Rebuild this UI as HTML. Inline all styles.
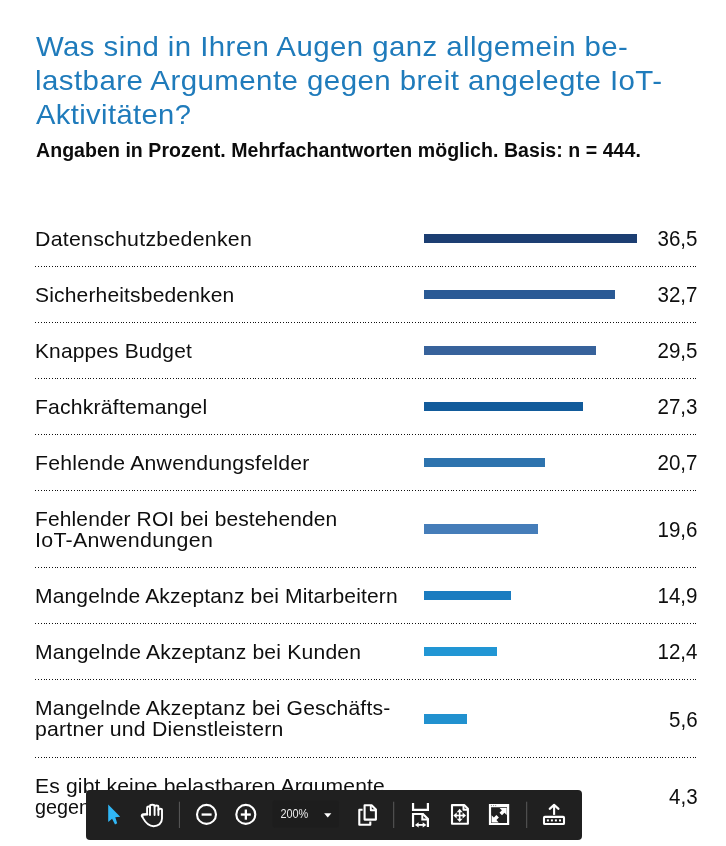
<!DOCTYPE html>
<html lang="de"><head><meta charset="utf-8"><title>IoT-Aktivitäten</title>
<style>
html,body{margin:0;padding:0;background:#fff;}
body{width:726px;height:846px;position:relative;overflow:hidden;font-family:"Liberation Sans", sans-serif;}
.t{position:absolute;white-space:nowrap;line-height:1;margin:0;transform-origin:0 0;}
.v{position:absolute;white-space:nowrap;line-height:1;text-align:right;font-size:21.3px;color:#0e0e0e;letter-spacing:0;transform:scaleX(0.965);transform-origin:100% 0;}
.b{position:absolute;}
#pg{position:absolute;left:0;top:0;width:726px;height:846px;will-change:transform;}
.d{position:absolute;left:35px;width:663px;height:1px;background-image:linear-gradient(90deg,#111 0,#111 1px,transparent 1px,transparent 3px,#111 3px,#111 4px,transparent 4px,transparent 6px,#111 6px,#111 7px,transparent 7px,transparent 9px,#111 9px,#111 10px,transparent 10px,transparent 11px);background-size:11px 1px;background-repeat:repeat-x;}
</style></head>
<body>
<div id="pg">
<div class="t" style="left:36.3px;top:32.80px;font-size:28px;font-weight:400;color:#1f7bbb;letter-spacing:0.419px;transform:scaleX(1.0494)">Was sind in Ihren Augen ganz allgemein be-</div>
<div class="t" style="left:35.2px;top:66.80px;font-size:28px;font-weight:400;color:#1f7bbb;letter-spacing:0.428px;transform:scaleX(1.0514)">lastbare Argumente gegen breit angelegte IoT-</div>
<div class="t" style="left:36.3px;top:100.80px;font-size:28px;font-weight:400;color:#1f7bbb;letter-spacing:0.354px;transform:scaleX(1.0421)">Aktivitäten?</div>
<div class="t" style="left:36.3px;top:140.60px;font-size:19.4px;font-weight:700;color:#0c0c0c;letter-spacing:0.048px;transform:scaleX(1.0075)">Angaben in Prozent. Mehrfachantworten möglich. Basis: n = 444.</div>
<div class="t" style="left:35.4px;top:228.50px;font-size:20.6px;font-weight:400;color:#0e0e0e;letter-spacing:0.254px;transform:scaleX(1.0347)">Datenschutzbedenken</div>
<div class="t" style="left:35.4px;top:284.50px;font-size:20.6px;font-weight:400;color:#0e0e0e;letter-spacing:0.151px;transform:scaleX(1.0217)">Sicherheitsbedenken</div>
<div class="t" style="left:35.4px;top:340.50px;font-size:20.6px;font-weight:400;color:#0e0e0e;letter-spacing:0.136px;transform:scaleX(1.0177)">Knappes Budget</div>
<div class="t" style="left:35.4px;top:396.50px;font-size:20.6px;font-weight:400;color:#0e0e0e;letter-spacing:0.194px;transform:scaleX(1.0271)">Fachkräftemangel</div>
<div class="t" style="left:35.4px;top:452.50px;font-size:20.6px;font-weight:400;color:#0e0e0e;letter-spacing:0.214px;transform:scaleX(1.0304)">Fehlende Anwendungsfelder</div>
<div class="t" style="left:35.4px;top:508.50px;font-size:20.6px;font-weight:400;color:#0e0e0e;letter-spacing:0.129px;transform:scaleX(1.0188)">Fehlender ROI bei bestehenden</div>
<div class="t" style="left:35.4px;top:529.50px;font-size:20.6px;font-weight:400;color:#0e0e0e;letter-spacing:0.293px;transform:scaleX(1.0381)">IoT-Anwendungen</div>
<div class="t" style="left:35.4px;top:585.50px;font-size:20.6px;font-weight:400;color:#0e0e0e;letter-spacing:0.138px;transform:scaleX(1.0210)">Mangelnde Akzeptanz bei Mitarbeitern</div>
<div class="t" style="left:35.4px;top:641.50px;font-size:20.6px;font-weight:400;color:#0e0e0e;letter-spacing:0.180px;transform:scaleX(1.0258)">Mangelnde Akzeptanz bei Kunden</div>
<div class="t" style="left:35.4px;top:697.50px;font-size:20.6px;font-weight:400;color:#0e0e0e;letter-spacing:0.166px;transform:scaleX(1.0247)">Mangelnde Akzeptanz bei Geschäfts-</div>
<div class="t" style="left:35.4px;top:718.50px;font-size:20.6px;font-weight:400;color:#0e0e0e;letter-spacing:0.193px;transform:scaleX(1.0317)">partner und Dienstleistern</div>
<div class="t" style="left:35.4px;top:775.50px;font-size:20.6px;font-weight:400;color:#0e0e0e;letter-spacing:0.152px;transform:scaleX(1.0235)">Es gibt keine belastbaren Argumente</div>
<div class="t" style="left:35.4px;top:796.50px;font-size:20.6px;font-weight:400;color:#0e0e0e;letter-spacing:0.000px;transform:scaleX(0.9604)">gegen IoT-Aktivitäten</div>
<div class="b" style="left:424px;top:234.00px;width:213px;height:9.4px;background:#1c3e72"></div>
<div class="b" style="left:424px;top:290.00px;width:191px;height:9.4px;background:#2a5a95"></div>
<div class="b" style="left:424px;top:346.00px;width:172px;height:9.4px;background:#37629b"></div>
<div class="b" style="left:424px;top:402.00px;width:159px;height:9.4px;background:#125b9b"></div>
<div class="b" style="left:424px;top:458.00px;width:121px;height:9.4px;background:#2d73ae"></div>
<div class="b" style="left:424px;top:524.00px;width:114px;height:9.9px;background:#457db9"></div>
<div class="b" style="left:424px;top:591.00px;width:87px;height:9.4px;background:#1b7cc0"></div>
<div class="b" style="left:424px;top:647.00px;width:73px;height:9.4px;background:#2196d4"></div>
<div class="b" style="left:424px;top:714.00px;width:43px;height:9.9px;background:#2191cf"></div>
<div class="b" style="left:424px;top:792.00px;width:25px;height:9.9px;background:#2191cf"></div>
<div class="v" style="right:28.3px;top:228.65px">36,5</div>
<div class="v" style="right:28.3px;top:284.65px">32,7</div>
<div class="v" style="right:28.3px;top:340.65px">29,5</div>
<div class="v" style="right:28.3px;top:396.65px">27,3</div>
<div class="v" style="right:28.3px;top:452.65px">20,7</div>
<div class="v" style="right:28.3px;top:519.65px">19,6</div>
<div class="v" style="right:28.3px;top:585.65px">14,9</div>
<div class="v" style="right:28.3px;top:641.65px">12,4</div>
<div class="v" style="right:28.3px;top:709.65px">5,6</div>
<div class="v" style="right:28.3px;top:786.65px">4,3</div>
<div class="d" style="top:266px"></div>
<div class="d" style="top:322px"></div>
<div class="d" style="top:378px"></div>
<div class="d" style="top:434px"></div>
<div class="d" style="top:490px"></div>
<div class="d" style="top:567px"></div>
<div class="d" style="top:623px"></div>
<div class="d" style="top:679px"></div>
<div class="d" style="top:757px"></div>
<svg class="tb" style="position:absolute;left:86px;top:790px" width="496" height="50" viewBox="86 790 496 50">
<rect x="86" y="790" width="496" height="50" rx="4" ry="4" fill="#202020"/>
<!-- select cursor -->
<path d="M108.2 804.6 L108.2 821.9 L112.1 818.7 L115.0 824.4 L117.2 823.3 L115.3 817.3 L120.2 816.7 Z" fill="#30b6f5"/>
<!-- hand -->
<g fill="none" stroke="#fff" stroke-width="1.9" stroke-linecap="round" stroke-linejoin="round">
<path d="M147.1 814.2 V807.8 Q147.1 806.5 148.55 806.5 Q150.0 806.5 150.0 807.8 V815.0"/>
<path d="M150.0 807.8 V806.1 Q150.0 804.8 152.3 804.8 Q154.6 804.8 154.6 806.1 V815.0"/>
<path d="M154.6 806.7 Q154.6 805.5 156.5 805.5 Q158.4 805.5 158.4 806.7 V815.0"/>
<path d="M158.4 810.0 Q158.4 808.7 160.2 808.7 Q162.0 808.7 162.0 810.0 V818.6 C162.0 823.6 158.0 826.2 153.6 826.2 C148.4 826.2 145.6 822.8 143.2 818.4 L142.1 816.2"/>
<path d="M147.1 814.2 L143.6 814.4 Q141.6 814.7 142.1 816.2" stroke-width="2.5"/>
</g>
<!-- separators -->
<g fill="#5a5a5a">
<rect x="178.9" y="801.7" width="1" height="26.3"/>
<rect x="393.2" y="801.7" width="1" height="26.3"/>
<rect x="526.2" y="801.7" width="1" height="26.3"/>
</g>
<!-- zoom out / in -->
<g fill="none" stroke="#fff" stroke-width="2.1">
<circle cx="206.5" cy="814.4" r="9.5"/>
<circle cx="245.8" cy="814.4" r="9.5"/>
</g>
<g fill="#fff">
<rect x="201.6" y="813.4" width="10" height="2.3"/>
<rect x="240.8" y="813.4" width="10" height="2.3"/>
<rect x="244.7" y="809.5" width="2.3" height="10.2"/>
</g>
<!-- zoom value box -->
<rect x="272.6" y="800.6" width="66.4" height="27" rx="2" fill="#1d1d1d"/>
<text x="280.4" y="818.1" font-family="Liberation Sans, sans-serif" font-size="12.6" fill="#ececec" textLength="27.9" lengthAdjust="spacingAndGlyphs">200%</text>
<path d="M324.1 813.2 H331.4 L327.75 817.6 Z" fill="#fff"/>
<!-- page display (two pages) -->
<g fill="none" stroke="#fff" stroke-width="2.1" stroke-linejoin="round">
<path d="M362.6 809.8 H359.3 V824.7 H370.3 V821.6"/>
<path d="M364.6 805.2 H371.6 L375.9 809.5 V819.6 H364.6 Z"/>
<path d="M370.8 805.4 V810.3 H375.8" stroke-width="1.9"/>
</g>
<!-- fit width -->
<g fill="none" stroke="#fff" stroke-width="2.2" stroke-linejoin="miter">
<path d="M413.05 803 V809.9 H427.9 V803"/>
<path d="M413.05 827 V814.0 H423.0 L427.9 818.9 V827"/>
<path d="M422.3 814.2 V819.6 H427.8" stroke-width="2"/>
</g>
<g fill="#fff">
<rect x="417.4" y="824.0" width="6.6" height="1.8"/>
<path d="M414.9 824.9 L418.6 822.2 V827.6 Z"/>
<path d="M426.4 824.9 L422.7 822.2 V827.6 Z"/>
</g>
<!-- fit page -->
<g fill="none" stroke="#fff" stroke-width="2.1" stroke-linejoin="round">
<path d="M452.0 805.1 H464.2 L467.9 808.8 V823.7 H452.0 Z"/>
<path d="M463.5 805.4 V809.8 H467.8" stroke-width="2"/>
</g>
<g fill="#fff">
<rect x="455.4" y="814.7" width="8.6" height="1.6"/>
<rect x="458.85" y="811.2" width="1.6" height="8.6"/>
<path d="M459.65 808.8 L462.6 812.2 H456.7 Z"/>
<path d="M459.65 822.1 L462.6 818.7 H456.7 Z"/>
<path d="M453.3 815.5 L456.7 812.6 V818.4 Z"/>
<path d="M466.0 815.5 L462.6 812.6 V818.4 Z"/>
</g>
<!-- full screen -->
<path d="M488.9 803.9 H509.2 V825 H488.9 Z M491.1 807.3 V822.9 H507.0 V807.3 Z" fill="#fff" fill-rule="evenodd"/>
<g fill="#8c8c8c">
<rect x="490.9" y="805.1" width="1.1" height="1"/>
<rect x="493.0" y="805.1" width="1.1" height="1"/>
<rect x="495.1" y="805.1" width="1.1" height="1"/>
</g>
<g fill="#fff">
<path d="M499.6 808.0 H506.7 V815.1 L504.4 812.8 L502.0 815.2 L499.5 812.7 L501.9 810.3 Z"/>
<path d="M491.6 815.3 V822.4 H498.7 L496.4 820.1 L498.9 817.6 L496.4 815.1 L493.9 817.6 Z"/>
</g>
<!-- dock toolbar (upload) -->
<g fill="none" stroke="#fff" stroke-width="2.1" stroke-linejoin="round">
<rect x="544.0" y="816.9" width="20.0" height="7.1" rx="0.8"/>
<path d="M554.1 814.9 V805.6" stroke-linecap="butt"/>
<path d="M549.7 808.9 L554.1 804.9 L558.5 808.9" stroke-linecap="round"/>
</g>
<g fill="#fff">
<rect x="546.9" y="819.4" width="2" height="2"/>
<rect x="550.9" y="819.4" width="2" height="2"/>
<rect x="554.9" y="819.4" width="2" height="2"/>
<rect x="559.0" y="819.4" width="2" height="2"/>
</g>
</svg>

</div>
</body></html>
